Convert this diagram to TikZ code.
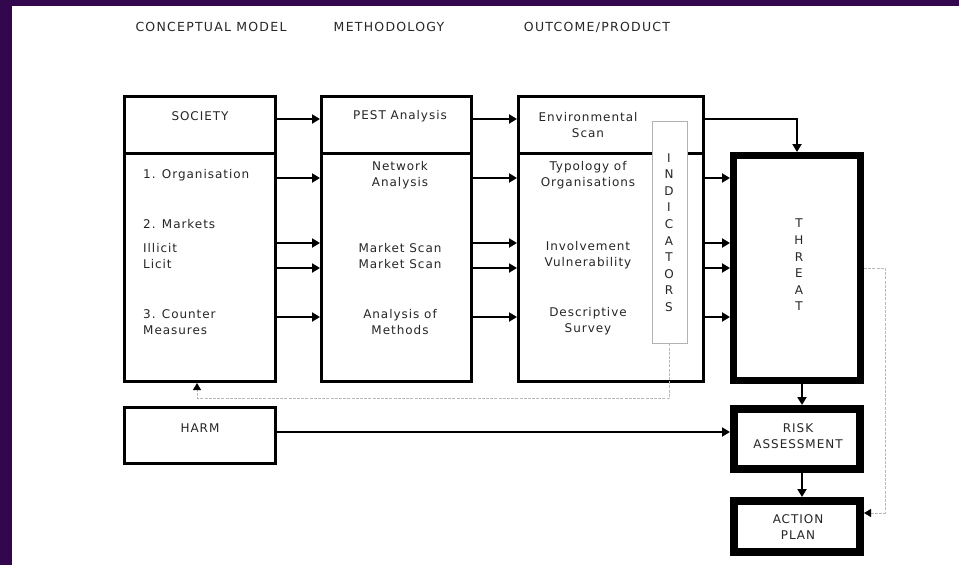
\documentclass[tikz,border=0pt]{standalone}
\usepackage{fontspec}
\setmainfont{DejaVu Sans}[LetterSpace=8]
\newfontfamily\headfont[LetterSpace=10]{DejaVu Sans}
\usetikzlibrary{positioning,arrows.meta,calc}
\definecolor{frame}{HTML}{33074D}
\definecolor{ink}{HTML}{262626}

\tikzset{
  box/.style={draw=black, line width=3pt, fill=white, inner sep=0pt},
  heavybox/.style={box, line width=7pt},
  flow/.style={line width=2.5pt, -{Triangle[length=8pt,width=9pt]}},
  feed/.style={draw=gray!55, line width=0.8pt, dash pattern=on 3pt off 1.2pt,
    -{Triangle[length=7pt,width=8pt,color=black,fill=black]}},
  txt/.style={font=\fontsize{12}{16}\selectfont, text=ink, align=center, inner sep=0pt},
  lefttxt/.style={txt, align=left, anchor=west},
  head/.style={font=\headfont\fontsize{12.5}{14}\selectfont, text=ink, inner sep=0pt},
  vert/.style={txt, font=\fontsize{12}{16.6}\selectfont}
}

\begin{document}
\begin{tikzpicture}[x=1pt, y=-1pt]
  \useasboundingbox (0,0) rectangle (959,565);
  % Slide frame
  \fill[frame] (0,0) rectangle (12,565);
  \fill[frame] (0,0) rectangle (959,6);

  % Column headings
  \node[head] (hconc) at (211,27) {CONCEPTUAL MODEL};
  \node[head] (hmeth) at (389,27) {METHODOLOGY};
  \node[head] (hout) at (597,27) {OUTCOME/PRODUCT};

  % Row levels of the connectors
  \coordinate (r0) at (0,119);
  \coordinate (r1) at (0,178);
  \coordinate (r2) at (0,243);
  \coordinate (r3) at (0,268);
  \coordinate (r4) at (0,317);
  \coordinate (r5) at (0,432);

  % Conceptual model
  \node[box, minimum width=151pt, minimum height=57pt] (society) at (200,125) {};
  \node[box, minimum width=151pt, minimum height=228pt] (socbody) at (200,267.5) {};
  \node[txt] at (200,116) {SOCIETY};
  \node[lefttxt] at (143,175) {1. Organisation};
  \node[lefttxt] at (143,224) {2. Markets};
  \node[lefttxt] at (143,248) {Illicit};
  \node[lefttxt] at (143,264) {Licit};
  \node[lefttxt] at (143,322) {3. Counter\\Measures};

  % Methodology
  \node[box, minimum width=150pt, minimum height=57pt] (pest) at (396.5,125) {};
  \node[box, minimum width=150pt, minimum height=228pt] (methbody) at (396.5,267.5) {};
  \node[txt] at (400,116) {PEST Analysis};
  \node[txt] at (400,175) {Network\\Analysis};
  \node[txt] at (400,256) {Market Scan\\Market Scan};
  \node[txt] at (400,322) {Analysis of\\Methods};

  % Outcome / product
  \node[box, minimum width=185pt, minimum height=57pt] (envscan) at (611,125) {};
  \node[box, minimum width=185pt, minimum height=228pt] (outbody) at (611,267.5) {};
  \node[txt] at (588,125) {Environmental\\Scan};
  \node[txt] at (588,175) {Typology of\\Organisations};
  \node[txt] at (588,255) {Involvement\\Vulnerability};
  \node[txt] at (588,321) {Descriptive\\Survey};
  \node[draw=gray!60, line width=0.8pt, fill=white, inner sep=0pt,
        minimum width=35pt, minimum height=222pt] (indic) at (669.5,232) {};
  \node[vert] at (669,232.5) {I\\N\\D\\I\\C\\A\\T\\O\\R\\S};

  % Threat, risk and action
  \node[heavybox, minimum width=127pt, minimum height=225pt] (threat) at (797,268) {};
  \node[vert] at (799,265) {T\\H\\R\\E\\A\\T};
  \node[box, line width=8pt, minimum width=126pt, minimum height=60pt] (risk) at (797,439) {};
  \node[txt] at (798,436.5) {RISK\\ASSESSMENT};
  \node[box, line width=8pt, minimum width=126pt, minimum height=51pt] (action) at (797,526.5) {};
  \node[txt] at (798,527) {ACTION\\PLAN};

  % Harm
  \node[box, minimum width=151pt, minimum height=56pt] (harm) at (200,435.5) {};
  \node[txt] at (200,428) {HARM};

  % Connectors between the columns
  \draw[flow] (society.east |- r0) -- (pest.west |- r0);
  \draw[flow] (pest.east |- r0) -- (envscan.west |- r0);
  \foreach \r in {r1,r2,r3,r4} {
    \draw[flow] (socbody.east |- \r) -- (methbody.west |- \r);
    \draw[flow] (methbody.east |- \r) -- (outbody.west |- \r);
    \draw[flow] (outbody.east |- \r) -- (threat.west |- \r);
  }
  \draw[flow] (envscan.east |- r0) -| (threat.north);
  \draw[flow] (harm.east |- r5) -- (risk.west |- r5);
  \draw[flow] ([xshift=5pt]threat.south) -- ([xshift=5pt]risk.north);
  \draw[flow] ([xshift=5pt]risk.south) -- ([xshift=5pt]action.north);

  % Feedback loops
  \coordinate (fb) at (197,398);
  \coordinate (side) at (885,513);
  \draw[feed] (indic.south) |- (fb) -- (socbody.south -| fb);
  \draw[feed] (threat.east) -| (side) -- (action.east |- side);
\end{tikzpicture}
\end{document}
